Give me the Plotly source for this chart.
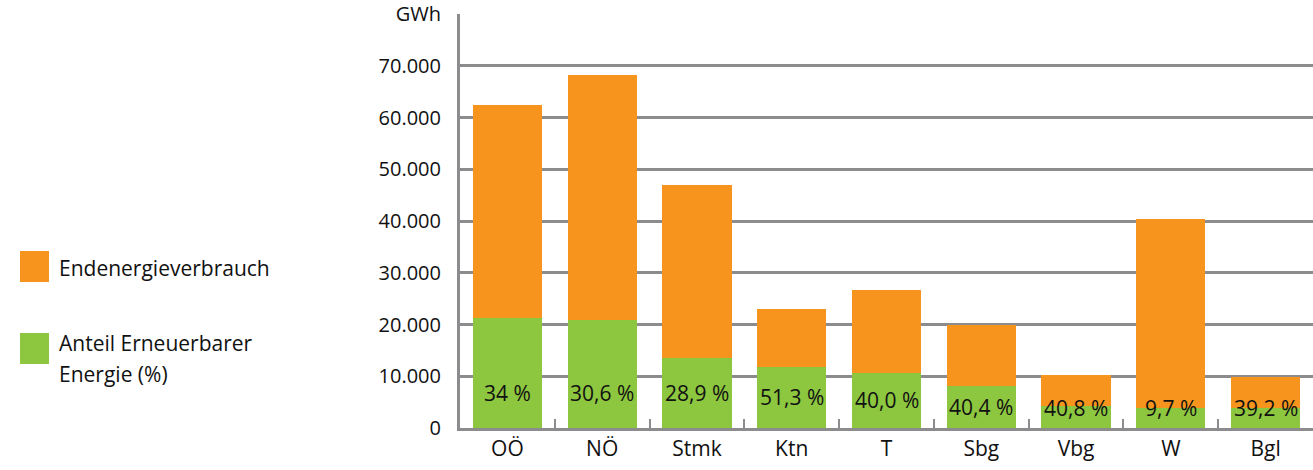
import plotly.graph_objects as go

# Final energy consumption per federal state (GWh) and renewable share (%)
regions = ["OÖ", "NÖ", "Stmk", "Ktn", "T", "Sbg", "Vbg", "W", "Bgl"]
consumption_gwh = [62500, 68300, 46900, 23000, 26600, 19900, 10200, 40300, 9800]
renewable_pct = [34.0, 30.6, 28.9, 51.3, 40.0, 40.4, 40.8, 9.7, 39.2]
pct_labels = ["34 %", "30,6 %", "28,9 %", "51,3 %", "40,0 %", "40,4 %", "40,8 %", "9,7 %", "39,2 %"]
y_ticks = [0, 10000, 20000, 30000, 40000, 50000, 60000, 70000, 80000]
y_ticktext = ["0", "10.000", "20.000", "30.000", "40.000", "50.000", "60.000", "70.000", "GWh"]

ORANGE = "#F7941D"
GREEN = "#8DC63F"
GRID = "#8C8C8E"
FONT = "Open Sans"
TEXT = "#111111"

renewable_gwh = [c * p / 100 for c, p in zip(consumption_gwh, renewable_pct)]
rest_gwh = [c - r for c, r in zip(consumption_gwh, renewable_gwh)]

fig = go.Figure()
fig.add_trace(go.Bar(x=regions, y=renewable_gwh, marker=dict(color=GREEN, line=dict(width=0)),
                     name="Anteil Erneuerbarer Energie (%)", showlegend=False, hoverinfo="skip"))
fig.add_trace(go.Bar(x=regions, y=rest_gwh, marker=dict(color=ORANGE, line=dict(width=0)),
                     name="Endenergieverbrauch", showlegend=False, hoverinfo="skip"))

# percentage labels inside the green part of each bar
for reg, g, lab in zip(regions, renewable_gwh, pct_labels):
    y_lab = min(max(g / 2, 3800), 6700)
    fig.add_annotation(x=reg, y=y_lab, text=lab, showarrow=False, xref="x", yref="y",
                       font=dict(family=FONT, size=21, color=TEXT))

# legend drawn as swatches + text on the left side
legend_items = [
    (ORANGE, 251, 282, ["Endenergieverbrauch"], [268]),
    (GREEN, 333, 364, ["Anteil Erneuerbarer", "Energie (%)"], [343, 374]),
]
H = 470
for color, y0, y1, lines, ys in legend_items:
    fig.add_shape(type="rect", xref="paper", yref="paper",
                  x0=-440 / 853, x1=-411 / 853, y0=(428 - y1) / 414, y1=(428 - y0) / 414,
                  fillcolor=color, line=dict(width=0))
    for txt, yy in zip(lines, ys):
        fig.add_annotation(xref="paper", yref="paper", x=-403 / 853, y=(428 - yy) / 414,
                           text=txt, showarrow=False, xanchor="left", yanchor="middle",
                           font=dict(family=FONT, size=21, color=TEXT))

fig.update_layout(
    barmode="stack",
    bargap=0.27,
    width=1313, height=H,
    margin=dict(l=460, r=0, t=14, b=42),
    plot_bgcolor="white", paper_bgcolor="white",
    font=dict(family=FONT, size=21, color=TEXT),
    xaxis=dict(
        showgrid=False, showline=True, linecolor=GRID, linewidth=3,
        ticks="inside", tickson="boundaries", ticklen=9, tickwidth=2, tickcolor=GRID,
        tickfont=dict(family=FONT, size=21, color=TEXT),
        fixedrange=True,
    ),
    yaxis=dict(
        range=[0, 80000.5], tickvals=y_ticks, ticktext=y_ticktext,
        showgrid=True, gridcolor=GRID, gridwidth=3,
        showline=True, linecolor=GRID, linewidth=3,
        zeroline=False, ticks="", ticklabelstandoff=12,
        tickfont=dict(family=FONT, size=20, color=TEXT),
        fixedrange=True,
    ),
)

fig.write_html("out.html")
